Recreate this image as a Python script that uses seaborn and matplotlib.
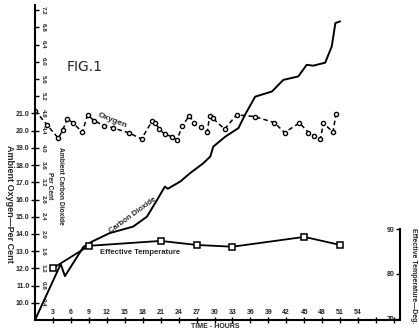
import matplotlib
matplotlib.use("Agg")
import matplotlib.pyplot as plt
import seaborn as sns
import numpy as np

# Ambient oxygen (per cent) against time in hours
oxygen_hours = [0, 2.0, 3.9, 4.6, 5.4, 6.4, 7.9, 8.8, 9.9, 11.6, 13.0, 15.7, 17.8,
                19.6, 20.1, 20.8, 21.7, 22.9, 23.7, 24.6, 25.8, 26.6, 27.7, 28.8,
                29.2, 29.7, 31.7, 33.7, 36.7, 40.0, 41.7, 44.2, 45.7, 46.7, 47.7,
                48.2, 49.8, 50.3]
oxygen_pct = [21.17, 20.34, 19.56, 20.01, 20.69, 20.44, 19.91, 20.92, 20.57, 20.28,
              20.16, 19.87, 19.52, 20.57, 20.44, 20.09, 19.78, 19.66, 19.45, 20.25,
              20.88, 20.42, 20.22, 19.95, 20.88, 20.72, 20.09, 20.92, 20.82, 20.47,
              19.89, 20.45, 19.89, 19.68, 19.51, 20.44, 19.91, 20.97]

# Ambient carbon dioxide (per cent)
co2_hours = [0, 4.3, 5.0, 8.1, 9.5, 12.5, 16.4, 18.7, 20.4, 21.7, 22.2, 24.3, 25.9,
             28.1, 29.3, 29.8, 31.8, 34.0, 35.1, 36.8, 39.6, 41.5, 44.0, 45.4, 46.5,
             48.5, 49.6, 50.2, 51.0]
co2_pct = [0.0, 1.30, 1.02, 1.70, 1.82, 2.02, 2.17, 2.40, 2.79, 3.10, 3.05, 3.22,
           3.41, 3.64, 3.80, 4.03, 4.26, 4.46, 4.77, 5.19, 5.31, 5.58, 5.66, 5.93,
           5.91, 5.98, 6.36, 6.90, 6.94]

# Effective temperature (deg.)
temp_hours = [3, 9, 21, 27, 33, 45, 51]
temp_deg = [81.3, 86.3, 87.4, 86.5, 86.1, 88.3, 86.5]

oxygen_ticks = [10, 11, 12, 13, 14, 15, 16, 17, 18, 19, 20, 21]
co2_ticks = [0.4, 0.8, 1.2, 1.6, 2.0, 2.4, 2.8, 3.2, 3.6, 4.0, 4.4, 4.8,
             5.2, 5.6, 6.0, 6.4, 6.8, 7.2]
hour_ticks = list(range(3, 61, 3))
hour_labels = [str(h) if h <= 54 else "" for h in hour_ticks]
temp_ticks = [70, 80, 90]

sns.set_theme(style="white")
plt.rcParams["font.family"] = ["Liberation Sans", "DejaVu Sans"]
plt.rcParams["font.weight"] = "bold"

W, H = 419, 333
fig = plt.figure(figsize=(W / 100, H / 100), dpi=100)
fig.patch.set_facecolor("white")

x0, x1, ytop, ybot = 35, 400, 5, 320
ax = fig.add_axes([x0 / W, 1 - ybot / H, (x1 - x0) / W, (ybot - ytop) / H])
ax.set_facecolor("none")

# oxygen axis (left)
ax.set_xlim(0, 61)
ax.set_ylim(9, 27.3)
for s in ("top", "right"):
    ax.spines[s].set_visible(False)
for s in ("left", "bottom"):
    ax.spines[s].set_color("black")
    ax.spines[s].set_linewidth(1.5)
ax.set_yticks(oxygen_ticks)
ax.set_yticklabels([f"{v:.1f}" for v in oxygen_ticks])
ax.tick_params(axis="y", direction="out", length=3, width=1, color="black",
               labelsize=5, pad=1, left=True)
ax.set_xticks(hour_ticks)
ax.set_xticklabels(hour_labels)
ax.tick_params(axis="x", direction="inout", length=4, width=1, color="black",
               labelsize=5, pad=-10, bottom=True)
ax.set_xlabel("")
ax.set_ylabel("")

sns.lineplot(x=oxygen_hours, y=oxygen_pct, ax=ax, color="black", linestyle=(0, (3, 2)),
             linewidth=1.1, marker="o", markersize=3.0, markerfacecolor="white",
             markeredgecolor="black", markeredgewidth=1.0)

# carbon dioxide scale shares the left spine, labels inside
ax2 = ax.twinx()
ax2.set_ylim(0, 7.32)
for s in ("top", "left", "bottom"):
    ax2.spines[s].set_visible(False)
ax2.spines["right"].set_position(("axes", 0))
ax2.spines["right"].set_visible(False)
ax2.set_yticks(co2_ticks)
ax2.set_yticklabels([f"{v:.1f}" for v in co2_ticks], rotation=270, va="center")
ax2.tick_params(axis="y", direction="out", length=3, width=1, color="black",
                labelsize=4.5, pad=1, right=True)
sns.lineplot(x=co2_hours, y=co2_pct, ax=ax2, color="black", linewidth=1.4)
ax2.set_ylabel("")

# effective temperature scale on the right
ax3 = ax.twinx()
ax3.set_ylim(69.7, 140.2)
for s in ("top", "right", "bottom"):
    ax3.spines[s].set_visible(False)
ax3.yaxis.tick_left()
ax3.spines["left"].set_visible(True)
ax3.spines["left"].set_position(("axes", 1.0))
ax3.spines["left"].set_bounds(70, 90)
ax3.spines["left"].set_color("black")
ax3.spines["left"].set_linewidth(1.5)
ax3.set_yticks(temp_ticks)
ax3.set_yticklabels([str(v) for v in temp_ticks])
ax3.tick_params(axis="y", direction="out", length=3, width=1, color="black",
                labelsize=5, pad=1)
sns.lineplot(x=temp_hours, y=temp_deg, ax=ax3, color="black", linewidth=1.3,
             marker="s", markersize=4.6, markerfacecolor="white",
             markeredgecolor="black", markeredgewidth=1.1)
ax3.set_ylabel("")

def px(x, y):
    return x / W, 1 - y / H

fig.text(*px(85, 67), "FIG.1", fontsize=10, fontweight="normal",
         family=["DejaVu Sans"], ha="center", va="center")
fig.text(*px(112, 121), "Oxygen", fontsize=6, rotation=-22, ha="center", va="center")
fig.text(*px(133, 215), "Carbon Dioxide", fontsize=5.5, rotation=36, ha="center", va="center")
fig.text(*px(100, 252), "Effective Temperature", fontsize=5.5, ha="left", va="center")
fig.text(*px(55, 186), "Ambient Carbon Dioxide\nPer Cent", fontsize=4.8, rotation=270,
         ha="center", va="center", multialignment="center", linespacing=1.7)
fig.text(*px(9, 204), "Ambient Oxygen\u2014Per Cent", fontsize=6.5, rotation=270,
         ha="center", va="center")
fig.text(*px(215, 326), "TIME - HOURS", fontsize=5, ha="center", va="center")
fig.text(*px(413, 228), "Effective Temperature\u2014Deg.", fontsize=5, rotation=270,
         ha="center", va="top")

fig.savefig("out.png", dpi=100, facecolor="white")
